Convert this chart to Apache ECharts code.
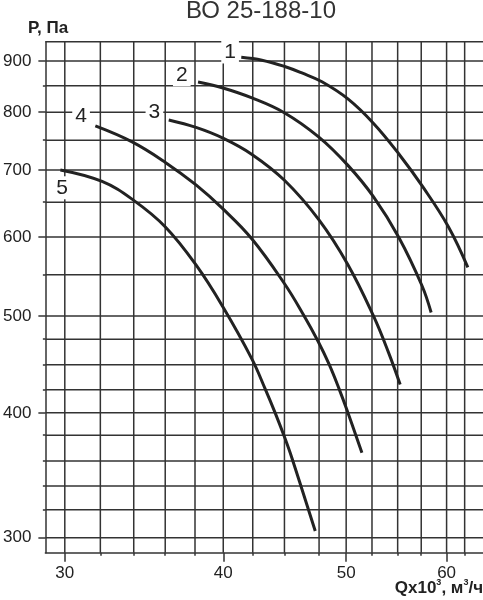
<!DOCTYPE html>
<html><head><meta charset="utf-8">
<script src="https://cdn.jsdelivr.net/npm/echarts@6/dist/echarts.min.js"></script>
<style>html,body{margin:0;padding:0;background:#fff}#c{width:483px;height:600px}</style>
</head><body><div id="c"></div>
<script>
const titleText = 'ВО 25-188-10';
const yName = 'Р, Па';
// grid lines (x: Q x10^3 m3/h, y: P Pa)
const xGrid = [30, 32, 34, 36, 38, 40, 42.2, 44.7, 47.6, 50, 52.4, 54.9, 57.3, 60, 62];
const xLabels = [30, 40, 50, 60];
const yGrid = [300, 320, 338, 358, 380, 400, 422, 447, 474, 500, 550, 600, 650, 700, 750, 800, 850, 900];
const yLabels = [300, 400, 500, 600, 700, 800, 900];
const curveNames = ['1', '2', '3', '4', '5'];
// curve 1
const q1 = [41.33, 42.91, 44.72, 46.14, 47.85, 50.16, 52.55, 55.02, 57.47, 60.21, 62.36];
const p1 = [907.9, 901.8, 888.8, 875.6, 858.0, 824.7, 779.4, 726.4, 673.3, 614.0, 559.3];
// curve 2
const q2 = [38.21, 39.98, 42.14, 44.72, 47.56, 50.16, 52.55, 55.02, 57.37, 58.34];
const p2 = [857.6, 845.7, 826.6, 798.5, 755.6, 707.6, 658.1, 599.3, 536.5, 504.1];
// curve 3
const q3 = [36.23, 38.07, 39.98, 42.14, 44.72, 47.56, 50.16, 52.55, 54.00, 55.15];
const p3 = [785.7, 772.4, 753.5, 725.7, 683.3, 624.7, 562.8, 499.8, 459.6, 427.0];
// curve 4
const q4 = [31.71, 33.90, 36.01, 38.07, 39.98, 42.14, 44.72, 46.28, 47.50, 48.48, 49.37, 50.09, 51.45];
const p4 = [774.9, 746.9, 712.5, 676.4, 640.0, 597.2, 538.3, 501.2, 472.0, 447.2, 422.5, 402.1, 364.9];
// curve 5
const q5 = [29.76, 32.10, 34.00, 36.01, 38.07, 39.98, 42.14, 43.17, 43.96, 44.72, 45.31, 47.27];
const p5 = [700.2, 681.9, 652.8, 614.0, 562.5, 510.6, 452.8, 422.5, 399.8, 377.9, 360.5, 304.7];
// curve number label anchors
const labelQ = [40.5, 37.1, 35.3, 30.9, 29.85];
const labelP = [919, 872, 800, 793, 672];

const font = '"Liberation Sans", Arial, sans-serif';
const xMin = 28.96, xMax = 64.1, yMin = 289.8, yMax = 941;
const lineCol = '#333';
const axStyle = {color: lineCol, width: 1.5};
const chart = echarts.init(document.getElementById('c'), null, {renderer: 'canvas'});
function zip(q, p) { return q.map((v, i) => [v, p[i]]); }
const curves = [[q1, p1], [q2, p2], [q3, p3], [q4, p4], [q5, p5]];
function gridSeries(data) {
  return {type: 'line', data: data, silent: true, z: 2, symbol: 'none', showSymbol: false, clip: false,
          lineStyle: {color: lineCol, width: 1.5}, animation: false};
}
const series = []
  .concat(xGrid.map(v => gridSeries([[v, yMin], [v, yMax]])))
  .concat(yGrid.concat([yMax]).map(v => gridSeries([[xMin, v], [xMax, v]])))
  .concat(curves.map((c, i) => ({
    type: 'line', name: curveNames[i], data: zip(c[0], c[1]), smooth: 0.4,
    showSymbol: false, symbol: 'none', silent: true, z: 4,
    lineStyle: {color: '#222', width: 3},
    markPoint: {
      symbol: 'rect', symbolSize: 0, silent: true, z: 6,
      data: [{coord: [labelQ[i], labelP[i]], value: curveNames[i]}],
      label: {show: true, position: 'inside', formatter: curveNames[i], fontSize: 21, color: '#222',
              backgroundColor: '#fff', padding: [1, 3], fontFamily: font}
    }
  })));
chart.setOption({
  animation: false,
  backgroundColor: '#fff',
  grid: {left: 43, top: 41.7, right: -3, bottom: 47.3, show: false},
  xAxis: [
    {type: 'log', min: xMin, max: xMax, position: 'bottom',
     axisLine: {show: true, lineStyle: axStyle},
     axisTick: {show: true, customValues: xGrid, length: 3, lineStyle: axStyle},
     axisLabel: {customValues: xLabels, fontSize: 17, color: '#222', margin: 12, fontFamily: font},
     splitLine: {show: false}},
    {type: 'log', min: xMin, max: xMax, position: 'bottom',
     axisLine: {show: false},
     axisTick: {show: true, customValues: xLabels, length: 9, lineStyle: axStyle},
     axisLabel: {show: false}, splitLine: {show: false}}
  ],
  yAxis: [
    {type: 'log', min: yMin, max: yMax, position: 'left',
     axisLine: {show: true, lineStyle: axStyle},
     axisTick: {show: true, customValues: yGrid, length: 2.5, lineStyle: axStyle},
     axisLabel: {customValues: yLabels, fontSize: 17, color: '#222', margin: 14, fontFamily: font},
     splitLine: {show: false}},
    {type: 'log', min: yMin, max: yMax, position: 'left',
     axisLine: {show: false},
     axisTick: {show: true, customValues: yLabels, length: 7, lineStyle: axStyle},
     axisLabel: {show: false}, splitLine: {show: false}}
  ],
  graphic: [
    {type: 'text', x: 261, y: 11, style: {text: titleText, font: '24px ' + font, fill: '#333', align: 'center', verticalAlign: 'middle'}},
    {type: 'text', x: 28, y: 28, style: {text: yName, font: 'bold 17px ' + font, fill: '#222', verticalAlign: 'middle'}},
    {type: 'text', x: 483, y: 588, style: {
      text: '{a|Qx10}{s|3}{a|, м}{s|3}{a|/ч}', align: 'right', verticalAlign: 'middle',
      rich: {a: {fontSize: 17, fontWeight: 'bold', fontFamily: font, fill: '#222'},
             s: {fontSize: 9, fontWeight: 'bold', fontFamily: font, fill: '#222', verticalAlign: 'top', padding: [0, 0, 10, 0]}}
    }}
  ],
  series: series
});
</script></body></html>
